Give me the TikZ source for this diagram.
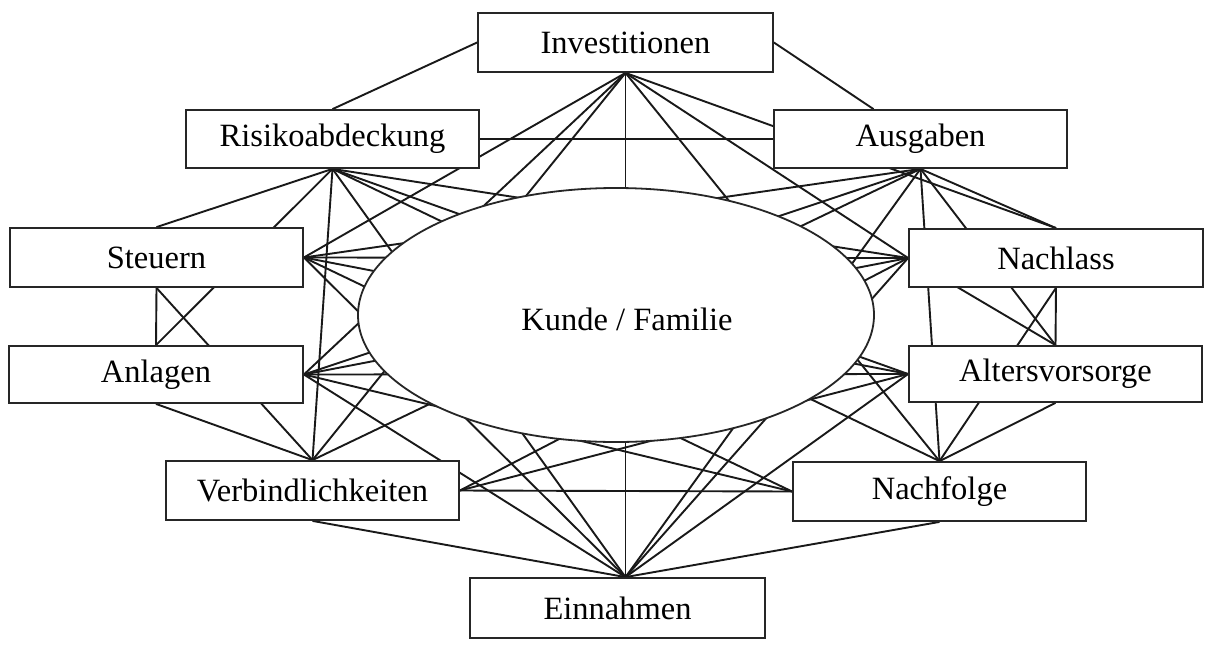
\documentclass[tikz,border=0pt]{standalone}
\usepackage{fontspec}
\setmainfont{Liberation Serif}
\usetikzlibrary{shapes.geometric,calc}
\pgfdeclarelayer{bg}
\pgfsetlayers{bg,main}
\begin{document}
\begin{tikzpicture}[x=1pt,y=-1pt,
  box/.style={draw=black!85, line width=1.8pt, fill=white, minimum width=293pt,
    minimum height=58pt, inner sep=0pt, font=\fontsize{32.5}{38}\selectfont},
  link/.style={line width=1.9pt, draw=black!90}]
\useasboundingbox (0,0) rectangle (1209,659);
% boxes
\node[box, minimum width=295pt, minimum height=59pt] (I) at (625.5,42.5) {Investitionen};
\node[box] (R) at (332.5,139) {Risikoabdeckung};
\node[box] (A) at (920.5,139) {Ausgaben};
\node[box, minimum height=59pt] (S) at (156.5,257.5) {Steuern};
\node[box, minimum width=294pt, minimum height=57pt] (L) at (156,374.5) {Anlagen};
\node[box, minimum width=294pt] (N) at (1056,258) {Nachlass};
\node[box, minimum height=56pt] (V) at (1055.5,374) {Altersvorsorge};
\node[box, minimum height=59pt] (B) at (312.5,490.5) {Verbindlichkeiten};
\node[box, minimum height=59pt] (F) at (939.5,491.5) {Nachfolge};
\node[box, minimum width=295pt, minimum height=60pt] (E) at (617.5,608) {Einnahmen};
% centre
\node[draw=black!85, line width=1.8pt, fill=white, ellipse, minimum width=516pt,
  minimum height=254pt, inner sep=0pt] (K) at (616,315) {};
\node[font=\fontsize{32.5}{38}\selectfont] (Kt) at (627,319) {Kunde / Familie};
\begin{pgfonlayer}{bg}
\fill[white] (0,0) rectangle (1209,659);
\coordinate (hE) at (E.north -| I.south);
\coordinate (At) at ($(A.north)+(-47,0)$);
% outer ring and side links
\draw[link] (I.west) -- (R.north);
\draw[link] (I.east) -- (At);
\draw[link] (R.east) -- (A.west);
\draw[link] (R.south) -- (S.north);
\draw[link] (R.south) -- (L.north);
\draw[link] (S.south) -- (L.north);
\draw[link] (B.north) -- (S.south);
\draw[link] (L.south) -- (B.north);
\draw[link] (B.south) -- (hE);
\draw[link] (B.east) -- (F.west);
\draw[link] (F.south) -- (hE);
\draw[link] (V.south) -- (F.north);
\draw[link] (F.north) -- (N.south);
\draw[link] (N.south) -- (V.north);
\draw[link] (A.south) -- (V.north);
\draw[link] (N.west) -- (V.north);
\draw[link] (A.south) -- (N.north);
\draw[link] (I.south) -- (N.north);
% Investitionen
\foreach \t in {S.east, N.west, L.east, B.north, F.north, hE}
  \draw[link] (I.south) -- (\t);
% Risikoabdeckung
\foreach \t in {B.north, hE, F.north, V.west, N.west}
  \draw[link] (R.south) -- (\t);
% Ausgaben
\foreach \t in {F.north, hE, B.north, L.east, S.east}
  \draw[link] (A.south) -- (\t);
% Steuern
\foreach \t in {N.west, V.west, F.west, hE}
  \draw[link] (S.east) -- (\t);
% Anlagen
\foreach \t in {N.west, V.west, F.west, hE}
  \draw[link] (L.east) -- (\t);
% Nachlass / Altersvorsorge
\foreach \t in {B.east, hE}
  \draw[link] (N.west) -- (\t);
\foreach \t in {B.east, hE}
  \draw[link] (V.west) -- (\t);
\end{pgfonlayer}
\end{tikzpicture}
\end{document}
